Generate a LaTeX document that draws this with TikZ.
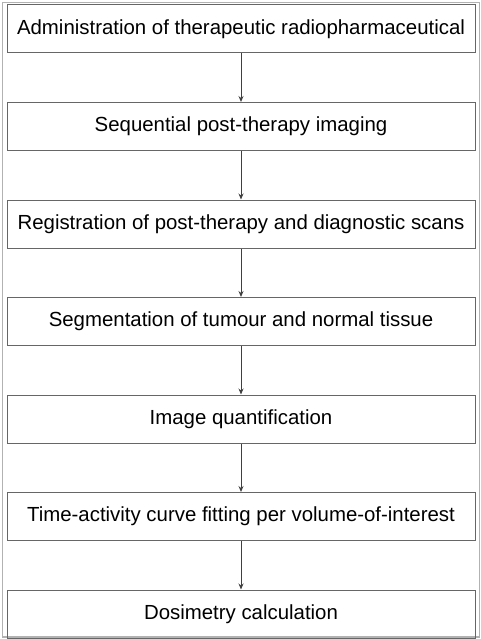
\documentclass[tikz,border=0pt]{standalone}
\usepackage{fontspec}
\setmainfont{Liberation Sans}
\usetikzlibrary{arrows.meta, positioning}

\begin{document}
\begin{tikzpicture}[
    x=1pt, y=1pt,
    node distance=48.5pt,
    stage/.style={rectangle, draw=black!60, line width=1pt, minimum width=468pt, minimum height=48pt, inner sep=0pt, align=center, font=\fontsize{20.4}{23}\selectfont},
    arrow/.style={-{Stealth[length=6pt, width=5pt]}, draw=black!75, line width=0.9pt}
]

% Frame
\useasboundingbox (0,0) rectangle (481,-639);
\draw[black!30, line width=1.6pt] (2.5,-2.5) rectangle (479.5,-637);

% Nodes
\node[stage] (admin) at (241,-29) {Administration of therapeutic radiopharmaceutical};
\node[stage, below=of admin] (imaging) {Sequential post-therapy imaging};
\node[stage, below=of imaging] (register) {Registration of post-therapy and diagnostic scans};
\node[stage, below=of register] (segment) {Segmentation of tumour and normal tissue};
\node[stage, below=of segment] (quant) {Image quantification};
\node[stage, below=of quant] (tac) {Time-activity curve fitting per volume-of-interest};
\node[stage, below=of tac] (dosim) {Dosimetry calculation};

% Arrows
\draw[arrow] (admin) -- (imaging);
\draw[arrow] (imaging) -- (register);
\draw[arrow] (register) -- (segment);
\draw[arrow] (segment) -- (quant);
\draw[arrow] (quant) -- (tac);
\draw[arrow] (tac) -- (dosim);

\end{tikzpicture}
\end{document}
